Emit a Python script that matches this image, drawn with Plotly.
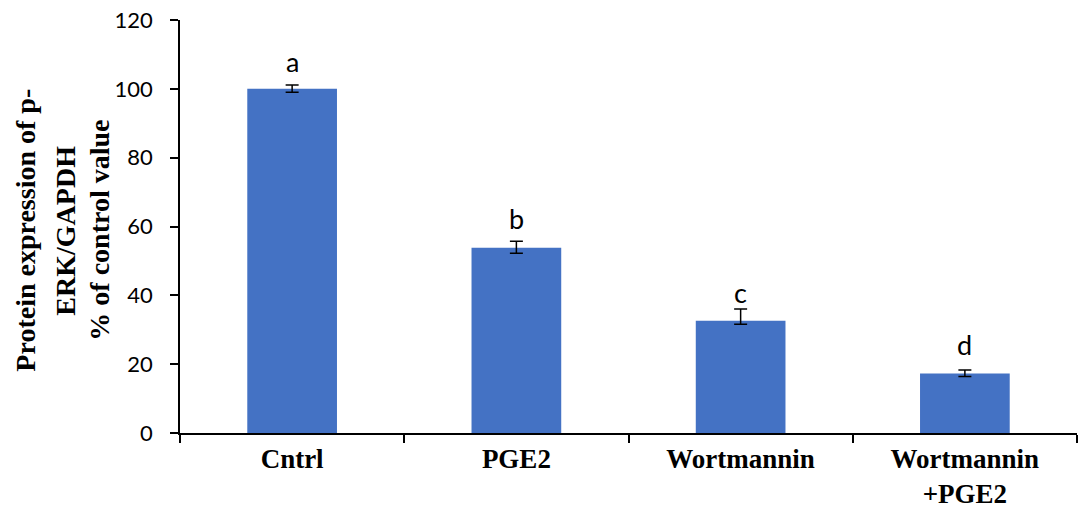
import plotly.graph_objects as go

categories = ["Cntrl", "PGE2", "Wortmannin", "Wortmannin<br>+PGE2"]
values = [100.0, 53.8, 32.6, 17.3]
err_plus = [1.1, 1.9, 3.4, 1.0]
err_minus = [1.0, 1.6, 1.0, 0.9]
letters = ["a", "b", "c", "d"]
letter_y = [107.8, 62.2, 40.7, 25.6]
y_ticks = [0, 20, 40, 60, 80, 100, 120]
y_title_lines = ["Protein expression of p-", "ERK/GAPDH", "% of control value"]

W, H = 1078, 512
ml, mr, mt, mb = 180, 1, 20, 79
pw = W - ml - mr

fig = go.Figure()
fig.add_trace(go.Bar(
    x=categories, y=values, width=0.4,
    marker=dict(color="#4472C4", line=dict(width=0)),
    error_y=dict(type="data", symmetric=False, array=err_plus, arrayminus=err_minus,
                 color="black", thickness=1.5, width=6.5),
))

for c, l, ly in zip(categories, letters, letter_y):
    fig.add_annotation(x=c, y=ly, text=l, showarrow=False, xref="x", yref="y",
                       yanchor="middle", font=dict(family="Lato", size=27, color="black"))

title_x_px = [26, 66, 100]
for t, px in zip(y_title_lines, title_x_px):
    fig.add_annotation(x=(px - ml) / pw, y=0.49, xref="paper", yref="paper", text=t,
                       textangle=-90, showarrow=False, xanchor="center", yanchor="middle",
                       font=dict(family="Liberation Serif", size=28, color="black", weight="bold"))

fig.update_layout(
    width=W, height=H,
    margin=dict(l=ml, r=mr, t=mt, b=mb, autoexpand=False),
    plot_bgcolor="white", paper_bgcolor="white",
    showlegend=False,
    bargap=0.6,
    xaxis=dict(type="category", range=[-0.5, 3.5], showline=True, linecolor="black", linewidth=1.5,
               ticks="outside", tickson="boundaries", ticklen=8, tickwidth=1.5, tickcolor="black",
               ticklabelstandoff=1, automargin=False,
               tickfont=dict(family="Liberation Serif", size=27, color="black", weight="bold"),
               showgrid=False, zeroline=False),
    yaxis=dict(range=[0, 120], tickvals=y_ticks, showline=True, linecolor="black", linewidth=1.5,
               ticks="outside", ticklen=8, tickwidth=1.5, tickcolor="black", ticklabelstandoff=13,
               automargin=False,
               tickfont=dict(family="Lato", size=22, color="black"),
               showgrid=False, zeroline=False),
)

fig.write_html("out.html")
